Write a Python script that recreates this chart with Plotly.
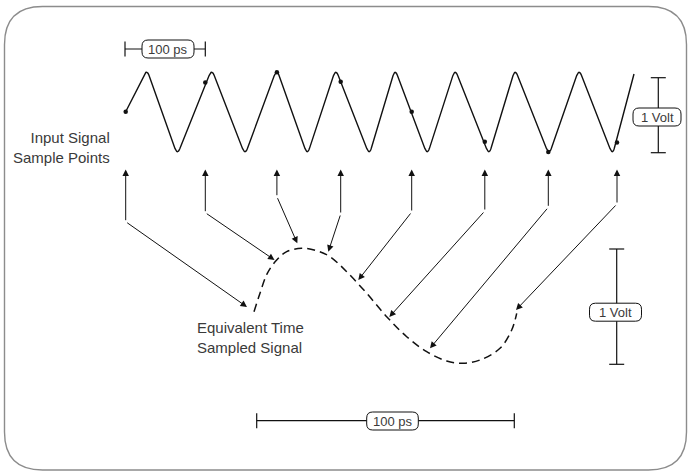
import numpy as np
import plotly.graph_objects as go

# ---------------- data (diagram units; x right, y down) ----
# input signal: triangle wave apexes
peak_x = [146.7, 211.7, 276.7, 335.7, 395.0, 455.0, 515.0, 579.0]
trough_x = [177.3, 245.0, 307.3, 369.3, 427.3, 489.0, 549.0, 612.5]
wave_top = 69.0
wave_bottom = 155.0
wave_start = [125.7, 111.7]
wave_end = [634.0, 74.0]

# sample points taken on the input signal
sample_x = [125.7, 205.3, 276.9, 340.7, 411.7, 484.8, 548.3, 617.0]
sample_y = [111.7, 82.5, 72.2, 81.7, 111.7, 141.7, 152.0, 142.5]

# arrows from each sample to the equivalent-time signal
arrow_top_y = 169.5
bend_y = [221.7, 212.7, 196.7, 214.0, 212.0, 211.0, 207.3, 204.0]
target_x = [247.0, 274.5, 297.3, 328.3, 358.3, 389.3, 430.0, 516.0]
target_y = [307.0, 260.0, 243.3, 251.7, 280.0, 317.0, 348.3, 310.0]

# equivalent time sampled signal (dashed)
eq_x = [254.0, 260.0, 267.3, 276.7, 286.7, 301.7, 316.7, 330.0, 346.7, 366.7,
        386.7, 406.7, 426.7, 446.7, 463.3, 480.0, 500.0, 511.7, 516.7]
eq_y = [311.7, 293.3, 273.3, 260.0, 251.7, 248.3, 250.7, 256.7, 271.7, 293.3,
        316.7, 336.7, 351.7, 361.0, 363.3, 360.0, 348.3, 330.0, 313.3]

# scale bars: (orientation, start, end, fixed coordinate, label)
bar_labels = ["100 ps", "1 Volt", "1 Volt", "100 ps"]
bar_orient = ["h", "v", "v", "h"]
bar_start = [125.0, 77.7, 249.0, 256.7]
bar_end = [205.3, 152.7, 364.3, 514.3]
bar_pos = [49.0, 658.3, 616.7, 420.7]
label_cx = [168.0, 657.0, 615.5, 392.5]
label_cy = [49.0, 117.0, 312.2, 421.0]
label_w = [52.0, 48.0, 52.0, 51.6]

text_labels = ["Input Signal<br>Sample Points", "Equivalent Time<br>Sampled Signal"]

# ---------------------------------------------------------------------------
W, H = 688, 472
INK = "#111111"
TXT = "#3a3a3a"
FONT = "Liberation Sans, Arial, sans-serif"


def rounded_polyline(pts, d=7.0, n=9):
    out = [tuple(pts[0])]
    for i in range(1, len(pts) - 1):
        a, v, b = (np.array(p, float) for p in (pts[i - 1], pts[i], pts[i + 1]))
        ua = (a - v) / np.linalg.norm(a - v)
        ub = (b - v) / np.linalg.norm(b - v)
        p0, p1 = v + d * ua, v + d * ub
        for t in np.linspace(0, 1, n):
            q = (1 - t) ** 2 * p0 + 2 * (1 - t) * t * v + t ** 2 * p1
            out.append(tuple(q))
    out.append(tuple(pts[-1]))
    return out


verts = [wave_start]
for px, tx in zip(peak_x, trough_x):
    verts.append([px, wave_top])
    verts.append([tx, wave_bottom])
verts.append(wave_end)
wave_pts = rounded_polyline(verts)

fig = go.Figure()

# input signal
fig.add_trace(go.Scatter(
    x=[p[0] for p in wave_pts], y=[p[1] for p in wave_pts],
    mode="lines", line=dict(color=INK, width=1.4), hoverinfo="skip"))

# sample points
fig.add_trace(go.Scatter(
    x=sample_x, y=sample_y, mode="markers",
    marker=dict(color=INK, size=4.5), hoverinfo="skip"))

# equivalent-time signal
fig.add_trace(go.Scatter(
    x=eq_x, y=eq_y, mode="lines", line_shape="spline",
    line=dict(color=INK, width=1.5, dash="8px,5px"), hoverinfo="skip"))

shapes = []


def rrect(x0, y0, x1, y1, r):
    return (f"M{x0 + r},{y0} L{x1 - r},{y0} Q{x1},{y0} {x1},{y0 + r} "
            f"L{x1},{y1 - r} Q{x1},{y1} {x1 - r},{y1} L{x0 + r},{y1} "
            f"Q{x0},{y1} {x0},{y1 - r} L{x0},{y0 + r} Q{x0},{y0} {x0 + r},{y0} Z")


# outer rounded frame
shapes.append(dict(type="path", xref="x", yref="y", path=rrect(4.5, 6.5, 686.5, 470, 38),
                   line=dict(color="#8c8c8c", width=1.4), fillcolor="rgba(0,0,0,0)",
                   layer="below"))

annotations = []
for o, s, e, p, lab, cx, cy, w in zip(bar_orient, bar_start, bar_end, bar_pos,
                                       bar_labels, label_cx, label_cy, label_w):
    cap = 7.5
    if o == "h":
        shapes.append(dict(type="line", x0=s, x1=e, y0=p, y1=p, line=dict(color=INK, width=1.2)))
        for xx in (s, e):
            shapes.append(dict(type="line", x0=xx, x1=xx, y0=p - cap, y1=p + cap,
                               line=dict(color=INK, width=1.2)))
    else:
        shapes.append(dict(type="line", x0=p, x1=p, y0=s, y1=e, line=dict(color=INK, width=1.2)))
        for yy in (s, e):
            shapes.append(dict(type="line", x0=p - cap, x1=p + cap, y0=yy, y1=yy,
                               line=dict(color=INK, width=1.2)))
    h = 18.0
    shapes.append(dict(type="path", path=rrect(cx - w / 2, cy - h / 2, cx + w / 2, cy + h / 2, 6),
                       line=dict(color=INK, width=1.0), fillcolor="white"))
    annotations.append(dict(x=cx, y=cy, text=lab, showarrow=False,
                            font=dict(family=FONT, size=13, color=TXT),
                            xanchor="center", yanchor="middle"))

# arrows
for sx, by, tx, ty in zip(sample_x, bend_y, target_x, target_y):
    annotations.append(dict(x=sx, y=arrow_top_y, ax=sx, ay=by, axref="x", ayref="y",
                            xref="x", yref="y", text="", showarrow=True,
                            arrowhead=2, arrowsize=1.3, arrowwidth=1.0, arrowcolor=INK))
    annotations.append(dict(x=tx, y=ty, ax=sx, ay=by, axref="x", ayref="y",
                            xref="x", yref="y", text="", showarrow=True,
                            arrowhead=2, arrowsize=1.3, arrowwidth=1.0, arrowcolor=INK))

annotations.append(dict(x=111.5, y=147.5, text=text_labels[0], showarrow=False,
                        xanchor="right", yanchor="middle", align="right",
                        font=dict(family=FONT, size=15, color=TXT)))
annotations.append(dict(x=194.5, y=337.5, text=text_labels[1], showarrow=False,
                        xanchor="left", yanchor="middle", align="left",
                        font=dict(family=FONT, size=15, color=TXT)))

fig.update_layout(
    width=W, height=H, margin=dict(l=0, r=0, t=0, b=0, pad=0),
    paper_bgcolor="white", plot_bgcolor="white", showlegend=False,
    xaxis=dict(range=[0, W], visible=False, fixedrange=True),
    yaxis=dict(range=[H, 0], visible=False, fixedrange=True),
    shapes=shapes, annotations=annotations,
)

fig.write_html("out.html", config={"displayModeBar": False},
               post_script="document.body.style.margin='0';")
